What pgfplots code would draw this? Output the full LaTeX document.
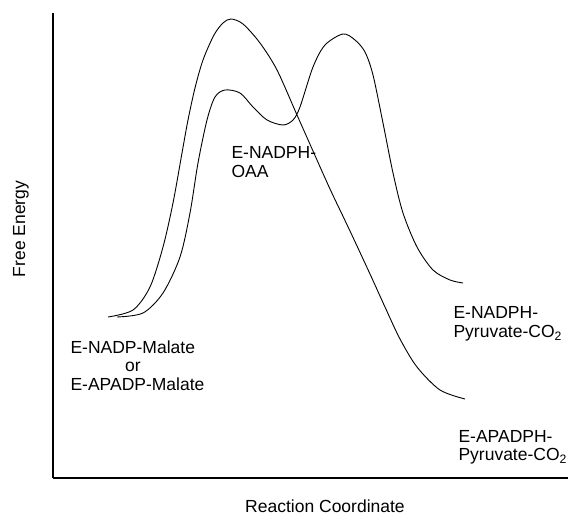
\documentclass[border=0pt]{standalone}
\usepackage{fontspec}
\setmainfont{Liberation Sans}
\usepackage{pgfplots}
\pgfplotsset{compat=1.18}
\newcommand\lbl{\fontsize{17.5}{19}\selectfont}

\begin{document}
\begin{tikzpicture}[x=1pt,y=1pt]
\useasboundingbox (-53,-41) rectangle (515,478);
\begin{axis}[
    at={(0,0)}, anchor=south west,
    scale only axis,
    width=515pt, height=465pt,
    xmin=53, xmax=568, ymin=41, ymax=506,
    axis lines=left,
    axis line style={-, line width=1.1pt},
    ticks=none,
    clip=false,
]
% outer curve: E-NADP/APADP-Malate -> E-APADPH-Pyruvate-CO2
\addplot[smooth, line width=0.9pt] coordinates {
    (108,202) (133,209) (150,232) (163,272) (173,316) (182,366)
    (188,399) (195,431) (203,459) (214,484) (223,496) (231,500)
    (243,495) (260,476) (277,449) (297,404) (313,368) (330,330)
    (350,288) (370,245) (385,212) (400,180) (417,152) (440,129)
    (465,120)
};
% inner curve: E-NADP-Malate -> E-NADPH-OAA -> E-NADPH-Pyruvate-CO2
\addplot[smooth, line width=0.9pt] coordinates {
    (117,202) (143,206) (163,226) (180,262) (190,306) (198,356)
    (207,399) (215,422) (225,429) (240,426) (253,412) (267,399)
    (283,394) (293,399) (300,412) (313,452) (325,474) (343,485)
    (355,479) (365,467) (373,444) (383,396) (393,346) (403,306)
    (417,272) (433,249) (450,239) (463,236)
};
\node[font=\lbl, anchor=base west] at (axis cs:228,360) {E-NADPH-};
\node[font=\lbl, anchor=base west] at (axis cs:228,341) {OAA};
\node[font=\lbl, anchor=base west] at (axis cs:67,165) {E-NADP-Malate};
\node[font=\lbl, anchor=base] at (axis cs:133,147) {or};
\node[font=\lbl, anchor=base west] at (axis cs:67,128) {E-APADP-Malate};
\node[font=\lbl, anchor=base west] at (axis cs:450,200) {E-NADPH-};
\node[font=\lbl, anchor=base west] at (axis cs:450,181) {Pyruvate-CO\textsubscript{2}};
\node[font=\lbl, anchor=base west] at (axis cs:455,76) {E-APADPH-};
\node[font=\lbl, anchor=base west] at (axis cs:455,58) {Pyruvate-CO\textsubscript{2}};
\node[font=\lbl, anchor=base] at (axis cs:325,6) {Reaction Coordinate};
\node[font=\lbl, rotate=90] at (axis cs:21,290) {Free Energy};
\end{axis}
\end{tikzpicture}
\end{document}
